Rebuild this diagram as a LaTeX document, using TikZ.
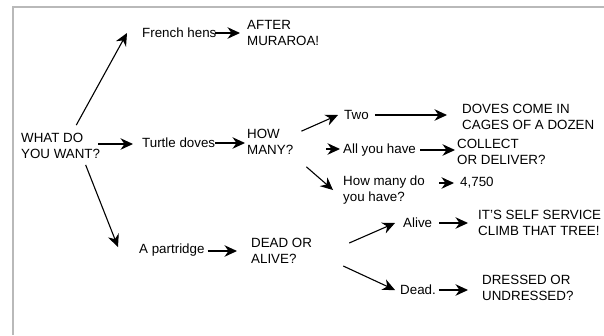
\documentclass[tikz,border=0pt]{standalone}
\usepackage{fontspec}
\setmainfont{Liberation Sans}
\usetikzlibrary{arrows.meta}
\usetikzlibrary{calc,positioning}
\begin{document}
\begin{tikzpicture}[x=1bp, y=-1bp,
    txt/.style={anchor=west, align=left, inner sep=0pt, font=\fontsize{13.4}{16}\selectfont},
    arr/.style={-{Stealth[length=12.5bp, width=11.5bp, inset=4bp]}, line width=1.1bp}]

    \useasboundingbox (0,0) rectangle (604,335);
    \draw[gray!55, line width=1.6bp] (13,335) -- (13,7) -- (604,7);

    \node[txt] (want) at (21,146) {WHAT DO\\YOU WANT?};

    \node[txt] (hens) at (142,33) {French hens};
    \node[txt] (after) at (247,33) {AFTER\\MURAROA!};

    \node[txt] (turtle) at (142,143) {Turtle doves};
    \node[txt] (howmany) at (247,142) {HOW\\MANY?};

    \node[txt] (partridge) at (139,250) {A partridge};
    \node[txt] (deadalive) at (251,251) {DEAD OR\\ALIVE?};

    \node[txt] (two) at (344,115) {Two};
    \node[txt] (doves) at (462,117) {DOVES COME IN\\CAGES OF A DOZEN};
    \node[txt] (allhave) at (343,150) {All you have};
    \node[txt] (collect) at (457,152) {COLLECT\\OR DELIVER?};
    \node[txt] (howmanydo) at (343,190) {How many do\\you have?};
    \node[txt] (num) at (460,183) {4,750};

    \node[txt] (alive) at (403,223) {Alive};
    \node[txt] (selfservice) at (478,223) {IT'S SELF SERVICE\\CLIMB THAT TREE!};
    \node[txt] (dead) at (400,290) {Dead.};
    \node[txt] (dressed) at (482,288) {DRESSED OR\\UNDRESSED?};

    \draw[arr] ($(want.north east)+(-24,-8)$) -- ($(hens.west)+(-15,0)$);
    \draw[arr] ($(want.east)+(-2,-2)$) -- ($(turtle.west)+(-9,1)$);
    \draw[arr] ($(want.south)+(25,6)$) -- ($(partridge.west)+(-21,-3)$);

    \draw[arr, shorten <=-2bp, shorten >=7bp] (hens.east) -- (after.west);
    \draw[arr, shorten >=2bp] (turtle.east) -- (turtle.east -| howmany.west);
    \draw[arr] ($(partridge.east)+(3,1)$) -- ($(deadalive.west)+(-14,0)$);

    \draw[arr] ($(howmany.north east)+(8,2)$) -- ($(two.west)+(-6,0)$);
    \draw[arr] ($(allhave.west)+(-17,-1)$) -- ($(allhave.west)+(-3,-1)$);
    \draw[arr] ($(howmany.south east)+(13,12)$) -- ($(howmanydo.west)+(-10,0)$);

    \draw[arr, shorten <=6bp, shorten >=15bp] (two.east) -- (two.east -| doves.west);
    \draw[arr, shorten <=4bp, shorten >=2bp] (allhave.east) -- (allhave.east -| collect.west);
    \draw[arr] ($(num.west)+(-21,0)$) -- ($(num.west)+(-6,0)$);

    \draw[arr] ($(deadalive.east)+(37,-8)$) -- ($(alive.west)+(-8,0)$);
    \draw[arr] ($(deadalive.east)+(31,15)$) -- ($(dead.west)+(-5,0)$);

    \draw[arr, shorten <=7bp, shorten >=10bp] (alive.east) -- (alive.east -| selfservice.west);
    \draw[arr, shorten <=3bp, shorten >=14bp] (dead.east) -- (dead.east -| dressed.west);

\end{tikzpicture}
\end{document}
